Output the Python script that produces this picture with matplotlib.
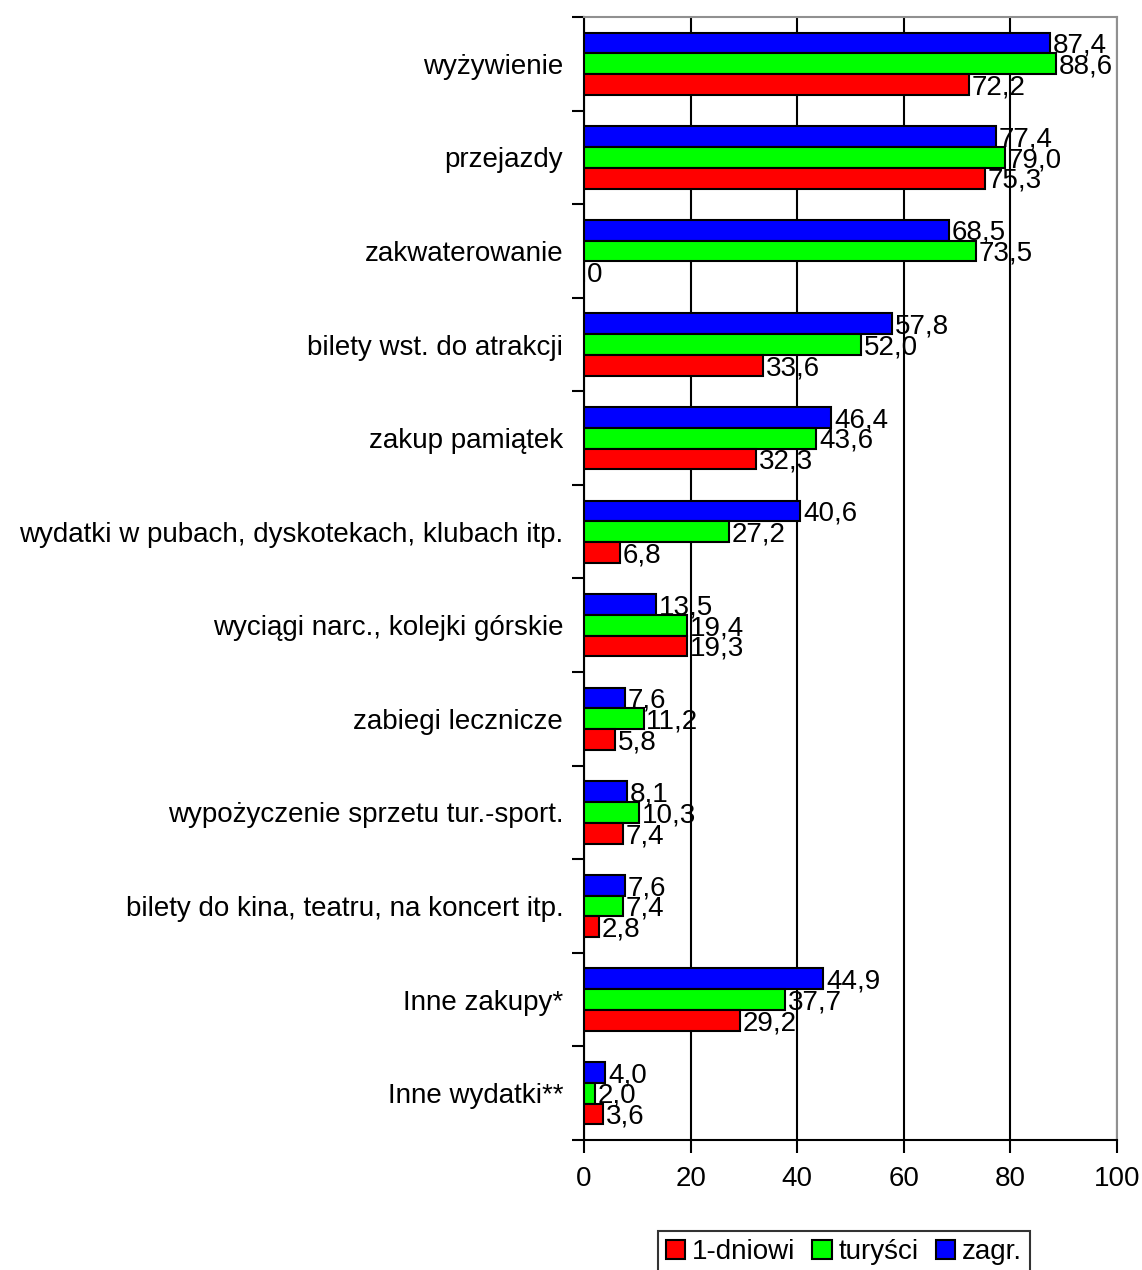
import numpy as np
import matplotlib
matplotlib.use("Agg")
import matplotlib.pyplot as plt
from matplotlib.patches import Patch

plt.rcParams['font.family'] = ['Liberation Sans', 'DejaVu Sans']

categories = ["wyżywienie", "przejazdy", "zakwaterowanie", "bilety wst. do atrakcji",
              "zakup pamiątek", "wydatki w pubach, dyskotekach, klubach itp.",
              "wyciągi narc., kolejki górskie", "zabiegi lecznicze",
              "wypożyczenie sprzetu tur.-sport.", "bilety do kina, teatru, na koncert itp.",
              "Inne zakupy*", "Inne wydatki**"]
zagr = [87.4, 77.4, 68.5, 57.8, 46.4, 40.6, 13.5, 7.6, 8.1, 7.6, 44.9, 4.0]
turysci = [88.6, 79.0, 73.5, 52.0, 43.6, 27.2, 19.4, 11.2, 10.3, 7.4, 37.7, 2.0]
jednodniowi = [72.2, 75.3, 0, 33.6, 32.3, 6.8, 19.3, 5.8, 7.4, 2.8, 29.2, 3.6]

series = [("zagr.", zagr, "#0000ff", -1),
          ("turyści", turysci, "#00ff00", 0),
          ("1-dniowi", jednodniowi, "#ff0000", 1)]

FS = 20
fig = plt.figure(figsize=(11.42, 12.7), dpi=100)
ax = fig.add_axes([0.5114, 0.1024, 0.978 - 0.5114, 0.9866 - 0.1024])

y = np.arange(len(categories))
h = 0.222
for name, vals, col, k in series:
    ax.barh(y + k * h, vals, height=h, color=col, edgecolor="black", linewidth=1.5, zorder=3)
    for yi, v in zip(y, vals):
        txt = "0" if v == 0 else f"{v:.1f}".replace(".", ",")
        ax.text(v + 0.5, yi + k * h + 0.03, txt, fontsize=FS, va="center", ha="left", zorder=4)

ax.set_xlim(0, 100)
ax.set_ylim(len(categories) - 0.5, -0.5)
ax.set_xticks(np.arange(0, 101, 20))
ax.set_xticklabels([str(v) for v in range(0, 101, 20)], fontsize=FS)
ax.tick_params(axis="x", direction="out", length=9, width=1.5, pad=10)

ax.set_yticks(np.arange(-0.5, len(categories), 1.0))
ax.set_yticklabels([])
ax.tick_params(axis="y", direction="out", length=9, width=1.5)
ax.set_yticks(y, minor=True)
ax.set_yticklabels(categories, minor=True, fontsize=FS)
ax.tick_params(axis="y", which="minor", length=0, pad=15)

ax.xaxis.grid(True, color="black", linewidth=1.5, zorder=0)
ax.set_axisbelow(True)
for s in ["left", "bottom"]:
    ax.spines[s].set_linewidth(1.5)
    ax.spines[s].set_color("black")
for s in ["top", "right"]:
    ax.spines[s].set_linewidth(1.5)
    ax.spines[s].set_color("#909090")

handles = [Patch(facecolor=c, edgecolor="black", linewidth=1.5, label=n)
           for n, _, c, _ in reversed(series)]
leg = fig.legend(handles=handles, loc="upper center", bbox_to_anchor=(0.739, 0.0307),
                 ncol=3, fontsize=FS, frameon=True, fancybox=False,
                 handlelength=0.7, handleheight=0.7, handletextpad=0.25,
                 columnspacing=0.6, borderpad=0.3, borderaxespad=0)
leg.get_frame().set_edgecolor("black")
leg.get_frame().set_linewidth(1.5)

fig.savefig("out.png", dpi=100)
